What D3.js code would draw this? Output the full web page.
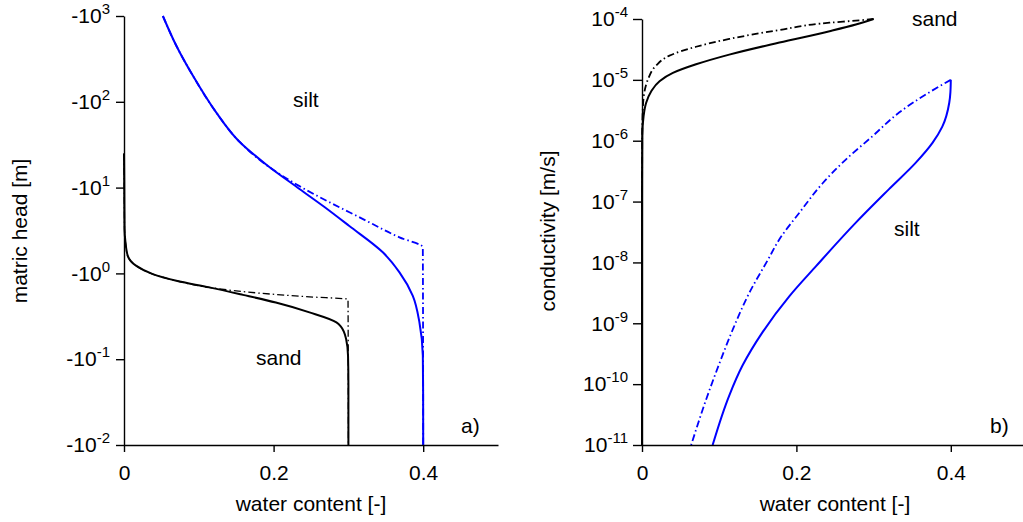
<!DOCTYPE html>
<html>
<head>
<meta charset="utf-8">
<script src="https://cdn.jsdelivr.net/npm/d3@7"></script>
<style>
  body { margin: 0; background: #fff; }
  text { font-family: "Liberation Sans", Arial, Helvetica, sans-serif; }
</style>
</head>
<body>
<script>
// ---- panel a) retention curves, head in m ----
const sandTheta   = [0, 0.0003, 0.0007, 0.002, 0.005, 0.016, 0.0385, 0.07, 0.114, 0.159, 0.203, 0.248, 0.284, 0.290, 0.297, 0.2995, 0.3, 0.3]
const sandHead    = [-25, -12, -3.31, -2.29, -1.60, -1.23, -0.98, -0.82, -0.687, -0.562, -0.457, -0.351, -0.269, -0.240, -0.171, -0.110, -0.05, -0.01]
const sandThetaAE = [0, 0.0003, 0.0007, 0.002, 0.005, 0.016, 0.0385, 0.07, 0.101, 0.181, 0.248, 0.2995, 0.3]
const sandHeadAE  = [-25, -12, -3.31, -2.29, -1.60, -1.23, -0.98, -0.82, -0.716, -0.589, -0.533, -0.50, -0.01]

const siltTheta   = [0.052, 0.0698, 0.092, 0.123, 0.154, 0.19, 0.2346, 0.268, 0.3008, 0.346, 0.3683, 0.3861, 0.395, 0.3995, 0.3999, 0.4]
const siltHead    = [-1000, -453, -202, -75.7, -34.5, -18.6, -9.64, -5.94, -3.59, -1.76, -1.03, -0.548, -0.268, -0.110, -0.04, -0.01]
const siltThetaAE = [0.052, 0.0698, 0.092, 0.123, 0.154, 0.19, 0.2346, 0.275, 0.315, 0.3683, 0.3995, 0.4]
const siltHeadAE  = [-1000, -453, -202, -75.7, -34.5, -18.4, -10.4, -6.73, -4.50, -2.63, -2.01, -0.01]

// ---- panel b) conductivity, m/s ----
const sandKTheta   = [0.3, 0.277, 0.243, 0.178, 0.113, 0.07, 0.04, 0.0227, 0.012, 0.0054, 0.002, 0.0003, 0.00003, 0]
const sandK        = [1e-4, 8.1e-5, 6.3e-5, 4.1e-5, 2.6e-5, 1.8e-5, 1.3e-5, 9.5e-6, 6.5e-6, 4.2e-6, 2.5e-6, 1.2e-6, 1e-7, 1e-11]
const sandKThetaAE = [0.3, 0.277, 0.243, 0.178, 0.113, 0.07, 0.0356, 0.018, 0.0075, 0.003, 0.001, 0.0002, 0]
const sandKAE      = [1e-4, 9.4e-5, 8.7e-5, 6.6e-5, 4.7e-5, 3.5e-5, 2.5e-5, 1.7e-5, 1.0e-5, 6.2e-6, 3.2e-6, 1e-6, 1e-11]

const siltKTheta   = [0.4, 0.3995, 0.398, 0.389, 0.3765, 0.355, 0.320, 0.277, 0.2255, 0.191, 0.156, 0.130, 0.113, 0.0915]
const siltK        = [1e-5, 6.3e-6, 4.2e-6, 1.7e-6, 9.3e-7, 4.4e-7, 1.6e-7, 4.5e-8, 8.7e-9, 2.8e-9, 7.1e-10, 2.0e-10, 6.5e-11, 1e-11]
const siltKThetaAE = [0.4, 0.368, 0.333, 0.299, 0.264, 0.234, 0.204, 0.178, 0.163, 0.1392, 0.1176, 0.1003, 0.0831, 0.0637]
const siltKAE      = [1e-5, 5.8e-6, 2.9e-6, 1.2e-6, 4.9e-7, 2.0e-7, 6.6e-8, 2.4e-8, 1.1e-8, 3.2e-9, 7.9e-10, 2.2e-10, 5.6e-11, 1e-11]

const xTicks = [0, 0.2, 0.4]
const headTicks = [-1000, -100, -10, -1, -0.1, -0.01]
const kTicks = [1e-4, 1e-5, 1e-6, 1e-7, 1e-8, 1e-9, 1e-10, 1e-11]

const w = 1023, h = 522
const fs = 21

const svg = d3.select('body').append('svg')
    .attr('width', w)
    .attr('height', h)

// scales
const xL = d3.scaleLinear().domain([0, 0.5]).range([124, 498])
const yL = d3.scaleLog().domain([-0.01, -1000]).range([445, 16])
const xR = d3.scaleLinear().domain([0, 0.5]).range([642, 1028])
const yR = d3.scaleLog().domain([1e-11, 1e-4]).range([445, 19])

// write 10^n with a raised exponent
function supLabel(sel, base, expOf) {
    sel.each(function (d) {
        const t = d3.select(this).text('')
        t.append('tspan').text(base)
        t.append('tspan').attr('dy', -9).style('font-size', '15px').text(expOf(d))
    })
}

function styleAxis(g) {
    g.selectAll('path, line').attr('stroke', '#000').attr('stroke-width', 1.4)
    g.selectAll('text').style('font-size', fs + 'px').attr('fill', '#000')
        .style('font-family', '"Liberation Sans", Arial, sans-serif')
}

// curves (drawn under the axes so the axis line stays crisp)
const curves = svg.append('g')

function drawCurve(xs, ys, tx, ty, colour, width, dash) {
    const pts = d3.zip(tx, ty)
    const line = d3.line()
        .x(d => xs(d[0]))
        .y(d => ys(d[1]))
        .curve(d3.curveMonotoneY)
    curves.append('path')
        .attr('d', line(pts))
        .attr('fill', 'none')
        .attr('stroke', colour)
        .attr('stroke-width', width)
        .attr('stroke-dasharray', dash)
}

const dashDot = '7,3,1.5,3'

drawCurve(xL, yL, sandThetaAE, sandHeadAE, '#000', 1.3, dashDot)
drawCurve(xL, yL, sandTheta, sandHead, '#000', 2, null)
drawCurve(xL, yL, siltThetaAE, siltHeadAE, '#00f', 1.8, dashDot)
drawCurve(xL, yL, siltTheta, siltHead, '#00f', 2, null)

drawCurve(xR, yR, sandKThetaAE, sandKAE, '#000', 1.8, dashDot)
drawCurve(xR, yR, sandKTheta, sandK, '#000', 2, null)
drawCurve(xR, yR, siltKThetaAE, siltKAE, '#00f', 1.8, dashDot)
drawCurve(xR, yR, siltKTheta, siltK, '#00f', 2, null)

// panel a axes
const axL = svg.append('g').attr('transform', 'translate(124,0)')
    .call(d3.axisLeft(yL).tickValues(headTicks).tickSize(8).tickSizeOuter(0).tickPadding(6))
styleAxis(axL)
supLabel(axL.selectAll('.tick text'), '-10', d => Math.round(Math.log10(-d)))

const axLb = svg.append('g').attr('transform', 'translate(0,445)')
    .call(d3.axisBottom(xL).tickValues(xTicks).tickSize(7).tickSizeOuter(0).tickPadding(13).tickFormat(d => d))
styleAxis(axLb)

// panel b axes
const axR = svg.append('g').attr('transform', 'translate(642,0)')
    .call(d3.axisLeft(yR).tickValues(kTicks).tickSize(9).tickSizeOuter(0).tickPadding(5))
styleAxis(axR)
supLabel(axR.selectAll('.tick text'), '10', d => Math.round(Math.log10(d)))

const axRb = svg.append('g').attr('transform', 'translate(0,445)')
    .call(d3.axisBottom(xR).tickValues(xTicks).tickSize(7).tickSizeOuter(0).tickPadding(13).tickFormat(d => d))
styleAxis(axRb)

// axis titles
svg.append('text').attr('x', 311).attr('y', 511).attr('text-anchor', 'middle')
    .style('font-size', fs + 'px').text('water content [-]')
svg.append('text').attr('x', 835).attr('y', 511).attr('text-anchor', 'middle')
    .style('font-size', fs + 'px').text('water content [-]')
svg.append('text').attr('transform', 'translate(27,231) rotate(-90)').attr('text-anchor', 'middle')
    .style('font-size', fs + 'px').text('matric head [m]')
svg.append('text').attr('transform', 'translate(555,231) rotate(-90)').attr('text-anchor', 'middle')
    .style('font-size', fs + 'px').text('conductivity [m/s]')

// annotations
const notes = [
    { t: 'silt', x: 293, y: 107 },
    { t: 'sand', x: 256, y: 365 },
    { t: 'a)', x: 461, y: 433 },
    { t: 'sand', x: 912, y: 26 },
    { t: 'silt', x: 894, y: 236 },
    { t: 'b)', x: 990, y: 433 }
]
svg.selectAll('text.note')
    .data(notes)
    .enter()
    .append('text')
    .attr('class', 'note')
    .attr('x', d => d.x)
    .attr('y', d => d.y)
    .style('font-size', fs + 'px')
    .text(d => d.t)
</script>
</body>
</html>
